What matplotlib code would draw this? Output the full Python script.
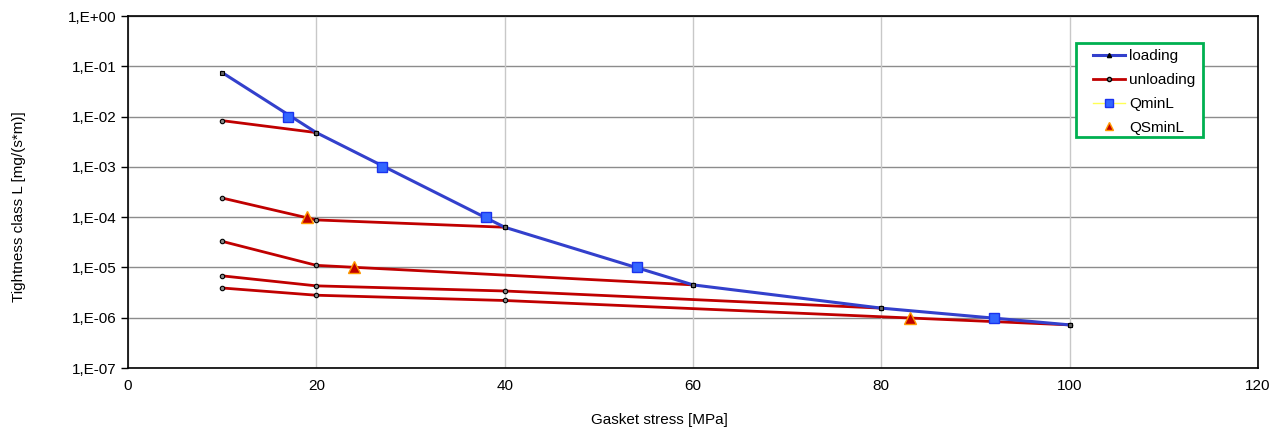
import matplotlib
matplotlib.use('Agg')
import matplotlib.pyplot as plt
from matplotlib.ticker import FixedLocator, FuncFormatter, NullLocator
from matplotlib.lines import Line2D
from matplotlib.patches import Rectangle
import numpy as np

plt.rcParams['font.family'] = ['Liberation Sans', 'DejaVu Sans']

# --- data ---
loading_x = [10, 20, 40, 60, 80, 100]
loading_y = [7.5e-2, 4.8e-3, 6.3e-5, 4.5e-6, 1.55e-6, 7.2e-7]

# unloading curves, each going back from a loading point to 10 MPa
unload_1_x = [20, 10]
unload_1_y = [4.8e-3, 8.3e-3]
unload_2_x = [40, 20, 10]
unload_2_y = [6.3e-5, 8.8e-5, 2.4e-4]
unload_3_x = [60, 20, 10]
unload_3_y = [4.5e-6, 1.1e-5, 3.3e-5]
unload_4_x = [80, 40, 20, 10]
unload_4_y = [1.55e-6, 3.4e-6, 4.3e-6, 6.8e-6]
unload_5_x = [100, 40, 20, 10]
unload_5_y = [7.2e-7, 2.2e-6, 2.8e-6, 3.9e-6]
unloading = [(unload_1_x, unload_1_y), (unload_2_x, unload_2_y),
             (unload_3_x, unload_3_y), (unload_4_x, unload_4_y),
             (unload_5_x, unload_5_y)]

qminl_x = [17, 27, 38, 54, 92]
qminl_y = [1e-2, 1e-3, 1e-4, 1e-5, 1e-6]

qsminl_x = [19, 24, 83]
qsminl_y = [1e-4, 1e-5, 1e-6]

y_ticks = [1e-7, 1e-6, 1e-5, 1e-4, 1e-3, 1e-2, 1e-1, 1e0]
x_ticks = [0, 20, 40, 60, 80, 100, 120]

BLUE = "#3340cc"
RED = "#c00000"
FS = 11

W, H = 1280, 430
fig = plt.figure(figsize=(W / 100, H / 100), dpi=100)
ax = fig.add_axes([128 / W, 1 - 368 / H, (1258 - 128) / W, (368 - 16) / H])

ax.set_yscale('log')
ax.set_xlim(0, 120)
ax.set_ylim(1e-7, 1e0)

# grid
for yt in y_ticks:
    ax.axhline(yt, color='#8c8c8c', linewidth=1.0, zorder=1)
for xt in x_ticks:
    ax.axvline(xt, color='#c8c8c8', linewidth=1.0, zorder=1)

# unloading lines
for ux, uy in unloading:
    ax.plot(ux, uy, color=RED, linewidth=2.0, zorder=3,
            marker='o', markersize=3.2, markerfacecolor='#888888',
            markeredgecolor='black', markeredgewidth=0.8)

# loading line
ax.plot(loading_x, loading_y, color=BLUE, linewidth=2.2, zorder=4,
        marker='s', markersize=3, markerfacecolor='#666666',
        markeredgecolor='black', markeredgewidth=0.8)

ax.plot(qminl_x, qminl_y, linestyle='none', marker='s', markersize=7,
        markerfacecolor='#3366ff', markeredgecolor='#1a33ee',
        markeredgewidth=1.0, zorder=5)
ax.plot(qsminl_x, qsminl_y, linestyle='none', marker='^', markersize=8.5,
        markerfacecolor='#c00000', markeredgecolor='#ff9900',
        markeredgewidth=1.0, zorder=5)

# axes styling
ax.yaxis.set_major_locator(FixedLocator(y_ticks))
ax.yaxis.set_minor_locator(NullLocator())
ax.yaxis.set_major_formatter(FuncFormatter(
    lambda v, p: "1,E%+03d" % int(round(np.log10(v)))))
ax.set_xticks(x_ticks)
ax.tick_params(axis='y', direction='out', length=5, width=1,
               labelsize=FS, pad=3)
ax.tick_params(axis='x', length=0, labelsize=FS, pad=8)
for s in ax.spines.values():
    s.set_color('black')
    s.set_linewidth(1.2)
    s.set_zorder(6)

fig.text(659 / W, 1 - 420 / H, "Gasket stress [MPa]", fontsize=FS,
         ha='center', va='center')
fig.text(19 / W, 1 - 207 / H, "Tightness class L [mg/(s*m)]", fontsize=FS,
         ha='center', va='center', rotation=90)

# legend box (drawn separately) and entries
fig.patches.append(Rectangle((1076 / W, 1 - 137 / H), (1203 - 1076) / W,
                             (137 - 43) / H, transform=fig.transFigure,
                             facecolor='white', edgecolor='#00b050',
                             linewidth=2.0, zorder=9))
handles = [
    Line2D([], [], color=BLUE, linewidth=2.2, marker='^', markersize=3,
           markerfacecolor='black', markeredgecolor='black'),
    Line2D([], [], color=RED, linewidth=2.0, marker='o', markersize=3,
           markerfacecolor='#888888', markeredgecolor='black'),
    Line2D([], [], color='#ffff55', linewidth=1.0, marker='s', markersize=6,
           markerfacecolor='#3366ff', markeredgecolor='#1a33ee'),
    Line2D([], [], linestyle='none', marker='^', markersize=6,
           markerfacecolor='#c00000', markeredgecolor='#ff9900'),
]
leg = fig.legend(handles, ["loading", "unloading", "QminL", "QSminL"],
                 loc='upper left', bbox_to_anchor=(1093 / W, 1 - 49 / H),
                 fontsize=FS, frameon=False, handlelength=2.1,
                 borderpad=0, labelspacing=0.65, handletextpad=0.25,
                 borderaxespad=0)
leg.set_zorder(10)

fig.savefig("out.png", dpi=100)
